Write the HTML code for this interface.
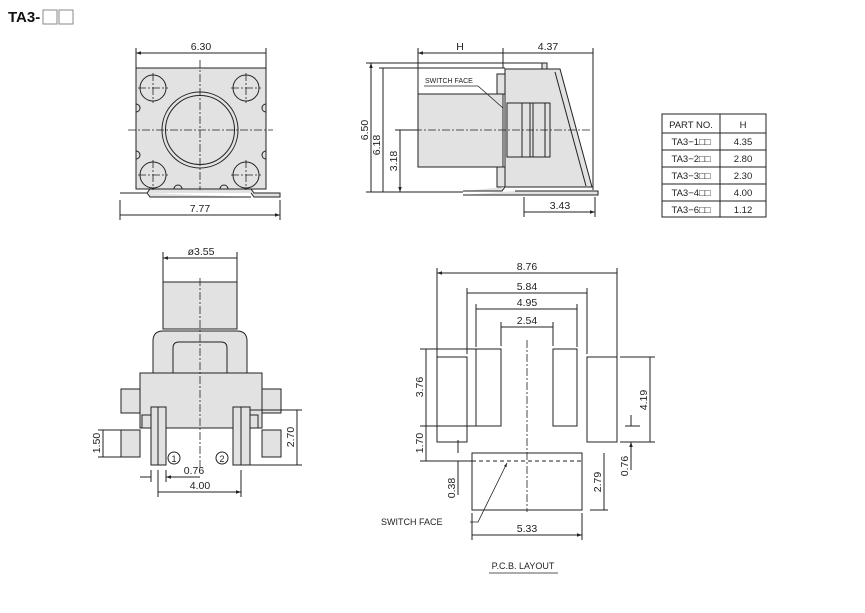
<!DOCTYPE html>
<html><head><meta charset="utf-8"><style>
html,body{margin:0;padding:0;background:#fff;}
svg{display:block;}
text{font-family:"Liberation Sans",sans-serif;font-size:10.5px;fill:#222;}
</style></head><body>
<svg width="865" height="613" viewBox="0 0 865 613" xmlns="http://www.w3.org/2000/svg">
<defs>
<marker id="a" viewBox="0 0 10 10" refX="10" refY="5" markerWidth="7" markerHeight="5" orient="auto-start-reverse"><path d="M0,1.5L10,5L0,8.5z" fill="#222"/></marker>
</defs>
<text x="8" y="22" style="font-size:15px;font-weight:bold;fill:#111">TA3-</text>
<rect x="43" y="10" width="14" height="14" fill="none" stroke="#888"/>
<rect x="59" y="10" width="14" height="14" fill="none" stroke="#888"/>

<g stroke="#222" stroke-width="1" fill="none">
<rect x="136" y="68" width="130" height="121" fill="#e2e2e2"/>
<path d="M120,193H147L150,189H251L254,193H280V197H254L251,193M147,193L150,197H251" fill="#e2e2e2"/>
<circle cx="200" cy="130" r="38"/><circle cx="200" cy="130" r="34.5"/>
<circle cx="153" cy="88" r="13"/><circle cx="246" cy="88" r="13"/>
<circle cx="153" cy="175" r="13"/><circle cx="246" cy="175" r="13"/>
<path d="M136,104a4,4 0 0 1 0,8M136,151a4,4 0 0 1 0,8M266,104a4,4 0 0 0 0,8M266,151a4,4 0 0 0 0,8"/>
<path d="M174,189a4,4 0 0 1 8,0M220,189a4,4 0 0 1 8,0"/>
<path d="M128,130H273M200,60V190M138,88H168M153,73V103M231,88H261M246,73V103M138,175H168M153,160V190M231,175H261M246,160V190" stroke-dasharray="8,2,2,2" stroke-width="0.8"/>
<path d="M136,48V68M266,48V68M120,200V220M280,200V220"/>
<path d="M136,53H266M120,215H280" marker-start="url(#a)" marker-end="url(#a)"/>

<rect x="418" y="94" width="85" height="73" fill="#e2e2e2"/>
<path d="M505,69H560L592,187H505Z" fill="#e2e2e2"/>
<path d="M555,72L586,186"/>
<rect x="497" y="74" width="8" height="20" fill="#e2e2e2"/>
<rect x="497" y="167" width="8" height="20" fill="#e2e2e2"/>
<rect x="507" y="103" width="43" height="54" fill="#e2e2e2"/>
<path d="M522,103V157M530,103V157M533,103V157M545,103V157"/>
<rect x="542" y="63" width="5" height="6" fill="#e2e2e2"/>
<path d="M463,191H502L505,187M463,195H598V191H515" fill="#e2e2e2"/>
<path d="M400,130H592" stroke-dasharray="8,2,2,2" stroke-width="0.8"/>
<path d="M418,48V94M503,48V68M593,48V190M524,197V217M595,197V217M366,63H545M379,68H505M395,130H418M366,192H463"/>
<path d="M418,53H503M503,53H593M524,212H595" marker-start="url(#a)" marker-end="url(#a)"/>
<path d="M371,63V192M383,68V192M400,130V192" marker-start="url(#a)" marker-end="url(#a)"/>
<path d="M424,86H478L503,108" stroke-width="0.8"/>

<rect x="163" y="282" width="74" height="47" fill="#e2e2e2"/>
<path d="M153,373V341q0,-10 10,-10H237q10,0 10,10V373Z" fill="#e2e2e2"/>
<path d="M173,373V348q0,-6 6,-6H221q6,0 6,6V373"/>
<rect x="180" y="373" width="40" height="15" rx="2" fill="#e2e2e2"/>
<rect x="140" y="373" width="122" height="55" fill="#e2e2e2"/>
<rect x="121" y="389" width="19" height="24" fill="#e2e2e2"/>
<rect x="121" y="430" width="19" height="27" fill="#e2e2e2"/>
<rect x="262" y="389" width="19" height="24" fill="#e2e2e2"/>
<rect x="262" y="430" width="19" height="27" fill="#e2e2e2"/>
<rect x="142" y="415" width="24" height="13" fill="#e2e2e2"/>
<rect x="233" y="415" width="25" height="13" fill="#e2e2e2"/>
<rect x="151" y="407" width="15" height="58" fill="#e2e2e2"/>
<rect x="233" y="407" width="17" height="58" fill="#e2e2e2"/>
<path d="M158,407V465M241,407V465"/>
<path d="M200,278V470" stroke-dasharray="8,2,2,2" stroke-width="0.8"/>
<circle cx="174" cy="458" r="6"/><circle cx="222" cy="458" r="6"/>
<path d="M163,252V282M237,252V282M98,430H121M98,457H121M250,410H302M250,465H302M151,470V482M166,470V482M158,470V497M241,470V497"/>
<path d="M163,258H237M103,430V457M297,410V465M158,492H241" marker-start="url(#a)" marker-end="url(#a)"/>
<path d="M140,477H151M177,477H166" marker-end="url(#a)"/>
<path d="M166,477H200"/>

<rect x="437" y="357" width="30" height="85"/>
<rect x="476" y="349" width="25" height="77"/>
<rect x="553" y="349" width="24" height="77"/>
<rect x="587" y="357" width="30" height="85"/>
<rect x="472" y="453" width="110" height="57"/>
<path d="M472,461H582" stroke-dasharray="4,3"/>
<path d="M527,340V512" stroke-dasharray="8,2,2,2" stroke-width="0.8"/>
<path d="M437,268V357M617,268V357M467,288V354M587,288V354M476,304V347M577,304V347M501,322V346M553,322V346"/>
<path d="M420,349H476M420,426H476M420,461H472M620,357H655M620,442H655M625,426H640M590,510H608M472,513V540M582,513V540"/>
<path d="M437,273H617M467,293H587M476,309H577M501,327H553M426,349V426M426,426V461M650,357V442M604,453V510M472,535H582" marker-start="url(#a)" marker-end="url(#a)"/>
<path d="M458,440V453M458,475V461M631,415V426M631,455V442" marker-end="url(#a)"/>
<path d="M458,461V495M631,442V470"/>
<path d="M470,522H478L507,463" stroke-width="0.8" marker-end="url(#a)"/>

<rect x="662" y="114" width="104" height="103"/>
<path d="M720,114V217M662,133H766M662,150H766M662,167H766M662,184H766M662,201H766"/>
<path d="M489,573H558" stroke-width="0.8"/>
</g>

<g text-anchor="middle">
<text x="201" y="50">6.30</text>
<text x="200" y="212">7.77</text>
<text x="460" y="50">H</text>
<text x="548" y="50">4.37</text>
<text x="560" y="209">3.43</text>
<text x="201" y="255">ø3.55</text>
<text x="194" y="474">0.76</text>
<text x="200" y="489">4.00</text>
<text x="174" y="462" style="font-size:9px">1</text>
<text x="222" y="462" style="font-size:9px">2</text>
<text x="527" y="270">8.76</text>
<text x="527" y="290">5.84</text>
<text x="527" y="306">4.95</text>
<text x="527" y="324">2.54</text>
<text x="527" y="532">5.33</text>
<text x="523" y="569" style="font-size:9px">P.C.B. LAYOUT</text>
<text x="691" y="128" style="font-size:9.5px">PART NO.</text>
<text x="743" y="128" style="font-size:9.5px">H</text>
<text x="691" y="145" style="font-size:9.5px">TA3−1□□</text><text x="743" y="145" style="font-size:9.5px">4.35</text>
<text x="691" y="162" style="font-size:9.5px">TA3−2□□</text><text x="743" y="162" style="font-size:9.5px">2.80</text>
<text x="691" y="179" style="font-size:9.5px">TA3−3□□</text><text x="743" y="179" style="font-size:9.5px">2.30</text>
<text x="691" y="196" style="font-size:9.5px">TA3−4□□</text><text x="743" y="196" style="font-size:9.5px">4.00</text>
<text x="691" y="213" style="font-size:9.5px">TA3−6□□</text><text x="743" y="213" style="font-size:9.5px">1.12</text>
</g>
<text x="425" y="83" style="font-size:7px">SWITCH FACE</text>
<text x="381" y="525" style="font-size:9px">SWITCH FACE</text>
<g text-anchor="middle">
<text transform="translate(368,130) rotate(-90)">6.50</text>
<text transform="translate(380,145) rotate(-90)">6.18</text>
<text transform="translate(397,161) rotate(-90)">3.18</text>
<text transform="translate(100,443) rotate(-90)">1.50</text>
<text transform="translate(294,437) rotate(-90)">2.70</text>
<text transform="translate(423,387) rotate(-90)">3.76</text>
<text transform="translate(423,443) rotate(-90)">1.70</text>
<text transform="translate(455,488) rotate(-90)">0.38</text>
<text transform="translate(647,400) rotate(-90)">4.19</text>
<text transform="translate(628,466) rotate(-90)">0.76</text>
<text transform="translate(601,482) rotate(-90)">2.79</text>
</g>
</svg>
</body></html>
